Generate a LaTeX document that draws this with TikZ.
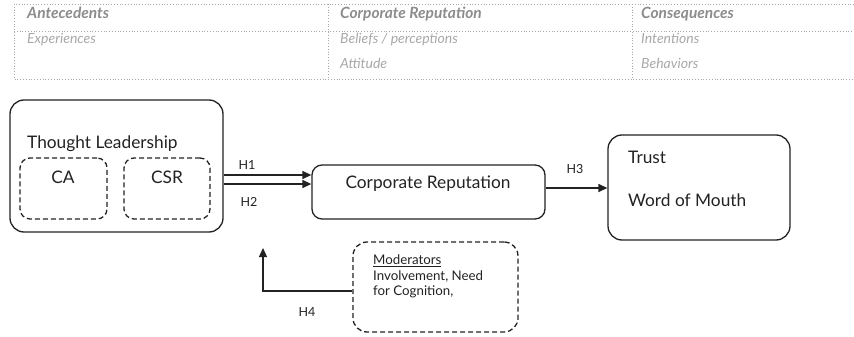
\documentclass[tikz,border=0pt]{standalone}
\usepackage{fontspec}
\setmainfont{Lato}
\usetikzlibrary{arrows.meta}
\definecolor{tblgray}{HTML}{A8A8A8}
\definecolor{txtgray}{HTML}{8C8C8C}
\definecolor{ink}{HTML}{222222}
\begin{document}
\begin{tikzpicture}[x=1pt,y=-1pt,
  box/.style={draw=ink, line width=1.3pt, rounded corners=14pt, inner sep=0pt},
  dbox/.style={draw=ink, line width=1.3pt, dash pattern=on 5pt off 3pt, rounded corners=10pt, inner sep=0pt},
  lbl/.style={font=\fontsize{17.3}{20}\selectfont, text=ink, inner sep=0pt},
  small/.style={font=\fontsize{13.3}{15}\selectfont, text=ink, inner sep=0pt, anchor=west},
  hyp/.style={font=\fontsize{12.5}{14}\selectfont, text=ink, inner sep=0pt},
  arr/.style={draw=ink, line width=1.3pt, -{Triangle[length=9pt,width=8pt]}},
  tline/.style={draw=tblgray, line width=0.8pt, dotted},
  thead/.style={font=\fontsize{15.5}{18}\selectfont\bfseries\itshape, text=txtgray, anchor=base west, inner sep=0pt},
  tcell/.style={font=\fontsize{14}{16}\selectfont\itshape, text=tblgray, anchor=base west, inner sep=0pt}
]
\useasboundingbox (0,0) rectangle (854,337);

% table
\draw[tline] (854,4) -- (14,4) -- (14,79) -- (854,79);
\draw[tline] (14,31) -- (854,31);
\draw[tline] (328,4) -- (328,79);
\draw[tline] (632,4) -- (632,79);
\node[thead] (h-ant) at (27,18.5) {Antecedents};
\node[thead] (h-cr) at (340,18.5) {Corporate Reputation};
\node[thead] (h-con) at (641,18.5) {Consequences};
\node[tcell] (c-exp) at (27,43.5) {Experiences};
\node[tcell] (c-bel) at (340,43.5) {Beliefs / perceptions};
\node[tcell] (c-att) at (340,68) {Attitude};
\node[tcell] (c-int) at (641,43.5) {Intentions};
\node[tcell] (c-beh) at (641,68) {Behaviors};

% boxes
\node[box, minimum width=213pt, minimum height=132pt] (tl) at (116.5,166) {};
\node[lbl, anchor=west] (tl-t) at (27,144) {Thought Leadership};
\node[dbox, minimum width=87pt, minimum height=61pt] (ca) at (63.5,188.5) {};
\node[lbl] (ca-t) at (63,177) {CA};
\node[dbox, minimum width=86pt, minimum height=61pt] (csr) at (167,188.5) {};
\node[lbl] (csr-t) at (167,177) {CSR};

\node[box, rounded corners=10pt, minimum width=233pt, minimum height=54pt] (cr) at (428.5,192) {};
\node[lbl] (cr-t) at (428,184) {Corporate Reputation};

\node[box, minimum width=182pt, minimum height=105pt] (tw) at (699,187.5) {};
\node[lbl, anchor=west] (tw-a) at (628,157) {Trust};
\node[lbl, anchor=west] (tw-b) at (628,200) {Word of Mouth};

\node[dbox, rounded corners=14pt, minimum width=165pt, minimum height=90pt] (mod) at (435.5,287) {};
\node[small] (mod-a) at (373,261) {\underline{Moderators}};
\node[small] (mod-b) at (373,277) {Involvement, Need};
\node[small] (mod-c) at (373,292) {for Cognition,};

% connectors
\draw[arr] (tl.east |- 0,175) -- (cr.west |- 0,175);
\draw[arr] (tl.east |- 0,184) -- (cr.west |- 0,184);
\node[hyp] (h1) at (247,165) {H1};
\node[hyp] (h2) at (249,202) {H2};
\draw[arr] (cr.east |- 0,188) -- (tw.west |- 0,188);
\node[hyp] (h3) at (575,169) {H3};
\coordinate (h4end) at (263,248);
\draw[arr] (mod.west |- 0,291) -| (h4end);
\node[hyp] (h4) at (307,312) {H4};
\end{tikzpicture}
\end{document}
